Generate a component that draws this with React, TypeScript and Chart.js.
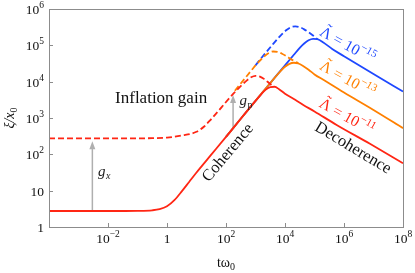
import React, { useEffect, useRef } from 'react';
import { Chart, registerables } from 'chart.js';

Chart.register(...registerables);

// ---- data (log10 of t*omega0 and log10 of xi/x0) ----
const redSolidLogT = [-4, -2, -1, -0.5, -0.25, 0, 0.25, 0.5, 0.75, 1, 1.5, 2, 2.5, 3, 3.2, 3.35, 3.5, 3.65, 3.8, 4, 4.3, 4.62, 5, 5.75, 6.88, 8];
const redSolidLogXi = [0.44, 0.44, 0.445, 0.46, 0.49, 0.57, 0.74, 0.98, 1.24, 1.5, 1.99, 2.48, 2.98, 3.47, 3.66, 3.78, 3.85, 3.86, 3.79, 3.67, 3.52, 3.36, 3.18, 2.81, 2.29, 1.755];

const orangeSolidLogT = [2, 2.5, 3, 3.25, 3.5, 3.75, 4.0, 4.15, 4.3, 4.45, 4.6, 4.8, 5.0, 5.3, 6, 7, 8];
const orangeSolidLogXi = [2.48, 2.98, 3.47, 3.72, 3.96, 4.2, 4.41, 4.49, 4.52, 4.5, 4.44, 4.33, 4.2, 4.05, 3.7, 3.22, 2.72];

const blueSolidLogT = [2, 2.5, 3, 3.5, 4, 4.3, 4.5, 4.65, 4.8, 4.95, 5.1, 5.3, 5.6, 6, 7, 8];
const blueSolidLogXi = [2.48, 2.98, 3.47, 3.96, 4.45, 4.74, 4.93, 5.05, 5.14, 5.18, 5.17, 5.08, 4.9, 4.7, 4.21, 3.73];

const redDashedLogT = [-4, -2, -1, -0.5, 0, 0.5, 1, 1.25, 1.5, 1.75, 2, 2.25, 2.5, 2.7, 2.85, 3, 3.15, 3.3, 3.45, 3.6];
const redDashedLogXi = [2.44, 2.44, 2.44, 2.445, 2.46, 2.52, 2.62, 2.76, 2.97, 3.2, 3.44, 3.67, 3.88, 4.03, 4.12, 4.16, 4.14, 4.07, 3.97, 3.87];

const orangeDashedLogT = [2.3, 2.6, 2.9, 3.1, 3.3, 3.45, 3.6, 3.75, 3.9, 4.05, 4.2, 4.35, 4.45];
const orangeDashedLogXi = [3.75, 4.05, 4.35, 4.54, 4.7, 4.79, 4.83, 4.82, 4.77, 4.7, 4.62, 4.55, 4.51];

const blueDashedLogT = [3.0, 3.3, 3.6, 3.85, 4.05, 4.2, 4.35, 4.5, 4.65, 4.8, 4.95, 5.1];
const blueDashedLogXi = [4.45, 4.75, 5.04, 5.27, 5.42, 5.5, 5.52, 5.5, 5.44, 5.36, 5.27, 5.17];

// ---- ticks ----
const xTickExps = [-2, 0, 2, 4, 6, 8];
const yTickExps = [0, 1, 2, 3, 4, 5, 6];

// ---- annotations (data coordinates, log10) ----
const lambdaLabels = ['\u221215', '\u221213', '\u221211'];
const lambdaLogT = [6.12, 6.12, 6.1];
const lambdaLogXi = [5.01, 4.07, 3.04];
const gxArrow = [-2.53, 0.44, 2.36]; // logT, from logXi, to logXi
const gpArrow = [2.24, 2.74, 3.63];

const RED = 'rgb(255,38,20)';
const ORANGE = 'rgb(255,128,0)';
const BLUE = 'rgb(30,72,255)';
const GRAY = 'rgb(175,175,175)';
const SERIF = '"Liberation Serif", "Times New Roman", serif';

const pts = (lt: number[], ly: number[]) => lt.map((v, i) => ({ x: Math.pow(10, v), y: Math.pow(10, ly[i]) }));

function drawPow(ctx: CanvasRenderingContext2D, base: string, exp: string, x: number, y: number, bs: number, es: number, align: string, raise: number) {
  ctx.font = `${bs}px ${SERIF}`;
  const wb = ctx.measureText(base).width;
  ctx.font = `${es}px ${SERIF}`;
  const we = exp ? ctx.measureText(exp).width : 0;
  const total = wb + we;
  const x0 = align === 'center' ? x - total / 2 : align === 'right' ? x - total : x;
  ctx.textAlign = 'left';
  ctx.textBaseline = 'alphabetic';
  ctx.font = `${bs}px ${SERIF}`;
  ctx.fillText(base, x0, y);
  if (exp) {
    ctx.font = `${es}px ${SERIF}`;
    ctx.fillText(exp, x0 + wb, y - raise);
  }
}

function arrow(ctx: CanvasRenderingContext2D, x: number, y0: number, y1: number) {
  ctx.save();
  ctx.strokeStyle = GRAY;
  ctx.fillStyle = GRAY;
  ctx.lineWidth = 1.5;
  ctx.beginPath();
  ctx.moveTo(x, y0);
  ctx.lineTo(x, y1 + 6);
  ctx.stroke();
  ctx.beginPath();
  ctx.moveTo(x, y1);
  ctx.lineTo(x - 3, y1 + 8);
  ctx.lineTo(x + 3, y1 + 8);
  ctx.closePath();
  ctx.fill();
  ctx.restore();
}

const decor = {
  id: 'decor',
  beforeDatasetsDraw(chart: any) {
    const ctx = chart.ctx as CanvasRenderingContext2D;
    const xs = chart.scales.x, ys = chart.scales.y;
    const P = (v: number) => Math.pow(10, v);
    arrow(ctx, xs.getPixelForValue(P(gxArrow[0])), ys.getPixelForValue(P(gxArrow[1])), ys.getPixelForValue(P(gxArrow[2])));
    arrow(ctx, xs.getPixelForValue(P(gpArrow[0])), ys.getPixelForValue(P(gpArrow[1])), ys.getPixelForValue(P(gpArrow[2])));
  },
  afterDraw(chart: any) {
    const ctx = chart.ctx as CanvasRenderingContext2D;
    const a = chart.chartArea;
    const xs = chart.scales.x, ys = chart.scales.y;
    const P = (v: number) => Math.pow(10, v);
    ctx.save();
    // frame
    ctx.strokeStyle = 'rgb(140,140,140)';
    ctx.lineWidth = 1;
    ctx.strokeRect(Math.round(a.left) + 0.5, Math.round(a.top) + 0.5, Math.round(a.right - a.left), Math.round(a.bottom - a.top));
    // ticks
    ctx.beginPath();
    xTickExps.forEach((e) => {
      const px = Math.round(xs.getPixelForValue(P(e))) + 0.5;
      ctx.moveTo(px, a.bottom);
      ctx.lineTo(px, a.bottom - 4);
    });
    yTickExps.forEach((e) => {
      const py = Math.round(ys.getPixelForValue(P(e))) + 0.5;
      ctx.moveTo(a.left, py);
      ctx.lineTo(a.left + 4, py);
    });
    ctx.stroke();
    // tick labels
    ctx.fillStyle = '#111';
    xTickExps.forEach((e) => {
      const px = xs.getPixelForValue(P(e));
      if (e === 0) drawPow(ctx, '1', '', px, a.bottom + 16, 13.5, 9.5, 'center', 0);
      else drawPow(ctx, '10', e < 0 ? '\u2212' + Math.abs(e) : String(e), px, a.bottom + 16, 13.5, 9.5, 'center', 6);
    });
    yTickExps.forEach((e) => {
      const py = ys.getPixelForValue(P(e));
      const rx = a.left - 5;
      if (e === 0) drawPow(ctx, '1', '', rx, py + 5, 13.5, 9.5, 'right', 0);
      else if (e === 1) drawPow(ctx, '10', '', rx, py + 5, 13.5, 9.5, 'right', 0);
      else drawPow(ctx, '10', String(e), rx, py + 5, 13.5, 9.5, 'right', 6);
    });
    // axis titles
    const cx = (a.left + a.right) / 2;
    ctx.font = `14px ${SERIF}`;
    const wt = ctx.measureText('t\u03c9').width;
    ctx.font = `10px ${SERIF}`;
    const w0 = ctx.measureText('0').width;
    const sx = cx - (wt + w0) / 2;
    ctx.font = `14px ${SERIF}`;
    ctx.textAlign = 'left';
    ctx.fillText('t\u03c9', sx, 267);
    ctx.font = `10px ${SERIF}`;
    ctx.fillText('0', sx + wt, 270);

    ctx.save();
    ctx.translate(14, (a.top + a.bottom) / 2);
    ctx.rotate(-Math.PI / 2);
    ctx.font = `italic 14px ${SERIF}`;
    const w1 = ctx.measureText('\u03be/x').width;
    ctx.font = `10px ${SERIF}`;
    const w2 = ctx.measureText('0').width;
    const s2 = -(w1 + w2) / 2;
    ctx.font = `italic 14px ${SERIF}`;
    ctx.fillText('\u03be/x', s2, 0);
    ctx.font = `10px ${SERIF}`;
    ctx.fillText('0', s2 + w1, 3);
    ctx.restore();

    // Inflation gain
    ctx.fillStyle = '#111';
    ctx.font = `17px ${SERIF}`;
    ctx.textAlign = 'center';
    ctx.fillText('Inflation gain', xs.getPixelForValue(P(-0.2)), ys.getPixelForValue(P(3.41)));

    const rot = (text: string, lt: number, lx: number, ang: number, size: number, color: string) => {
      ctx.save();
      ctx.translate(xs.getPixelForValue(P(lt)), ys.getPixelForValue(P(lx)));
      ctx.rotate(ang);
      ctx.fillStyle = color;
      ctx.font = `${size}px ${SERIF}`;
      ctx.textAlign = 'center';
      ctx.textBaseline = 'middle';
      ctx.fillText(text, 0, 0);
      ctx.restore();
    };
    rot('Coherence', 2.07, 2.04, -50 * Math.PI / 180, 16.5, '#111');
    rot('Decoherence', 6.3, 2.17, 31 * Math.PI / 180, 16.5, '#111');

    // Lambda labels: Λ with tilde accent, "= 10^exp"
    const cols = [BLUE, ORANGE, RED];
    lambdaLabels.forEach((lab, i) => {
      ctx.save();
      ctx.translate(xs.getPixelForValue(P(lambdaLogT[i])), ys.getPixelForValue(P(lambdaLogXi[i])));
      ctx.rotate(29 * Math.PI / 180);
      ctx.fillStyle = cols[i];
      ctx.textAlign = 'left';
      ctx.textBaseline = 'alphabetic';
      ctx.font = `15.5px ${SERIF}`;
      const wL = ctx.measureText('\u039b').width;
      const wR = ctx.measureText(' = 10').width;
      ctx.font = `11px ${SERIF}`;
      const wE = ctx.measureText(lab).width;
      const x0 = -(wL + wR + wE) / 2;
      const base = 5;
      ctx.font = `15.5px ${SERIF}`;
      ctx.fillText('\u039b', x0, base);
      ctx.textAlign = 'center';
      ctx.fillText('\u02dc', x0 + wL / 2, base - 4);
      ctx.textAlign = 'left';
      ctx.fillText(' = 10', x0 + wL, base);
      ctx.font = `11px ${SERIF}`;
      ctx.fillText(lab, x0 + wL + wR, base - 7);
      ctx.restore();
    });

    // g_x and g_p
    ctx.fillStyle = '#222';
    const gx = xs.getPixelForValue(P(-2.34)), gy = ys.getPixelForValue(P(1.404));
    ctx.textAlign = 'left';
    ctx.textBaseline = 'alphabetic';
    ctx.font = `italic 15px ${SERIF}`;
    ctx.fillText('g', gx, gy);
    const wg = ctx.measureText('g').width;
    ctx.font = `italic 10px ${SERIF}`;
    ctx.fillText('x', gx + wg + 0.5, gy + 3);
    const px2 = xs.getPixelForValue(P(2.46)), py2 = ys.getPixelForValue(P(3.36));
    ctx.font = `italic 15px ${SERIF}`;
    ctx.fillText('g', px2, py2);
    ctx.font = `10px ${SERIF}`;
    ctx.fillText('p', px2 + wg + 0.5, py2 + 3);
    ctx.restore();
  },
};

export default function App() {
  const ref = useRef<HTMLCanvasElement>(null);
  useEffect(() => {
    const ds = (lt: number[], ly: number[], color: string, dashed: boolean, order: number) => ({
      data: pts(lt, ly),
      showLine: true,
      borderColor: color,
      backgroundColor: color,
      borderWidth: 1.8,
      borderDash: dashed ? [6, 3] : [],
      pointRadius: 0,
      cubicInterpolationMode: 'monotone' as const,
      fill: false,
      order,
    });
    const chart = new Chart(ref.current!, {
      type: 'scatter',
      data: {
        datasets: [
          ds(redSolidLogT, redSolidLogXi, RED, false, 0),
          ds(redDashedLogT, redDashedLogXi, RED, true, 1),
          ds(orangeSolidLogT, orangeSolidLogXi, ORANGE, false, 2),
          ds(orangeDashedLogT, orangeDashedLogXi, ORANGE, true, 3),
          ds(blueSolidLogT, blueSolidLogXi, BLUE, false, 4),
          ds(blueDashedLogT, blueDashedLogXi, BLUE, true, 5),
        ],
      },
      options: {
        animation: false,
        responsive: false,
        maintainAspectRatio: false,
        layout: { padding: { left: 49, right: 12, top: 9, bottom: 46 } },
        plugins: { legend: { display: false }, tooltip: { enabled: false } },
        scales: {
          x: { type: 'logarithmic', min: 1e-4, max: 1e8, display: false },
          y: { type: 'logarithmic', min: 1, max: 1e6, display: false },
        },
      },
      plugins: [decor],
    });
    return () => chart.destroy();
  }, []);
  return (
    <div style={{ position: 'fixed', left: 0, top: 0, width: 415, height: 273, background: '#fff' }}>
      <canvas ref={ref} width={415} height={273} style={{ display: 'block' }} />
    </div>
  );
}
